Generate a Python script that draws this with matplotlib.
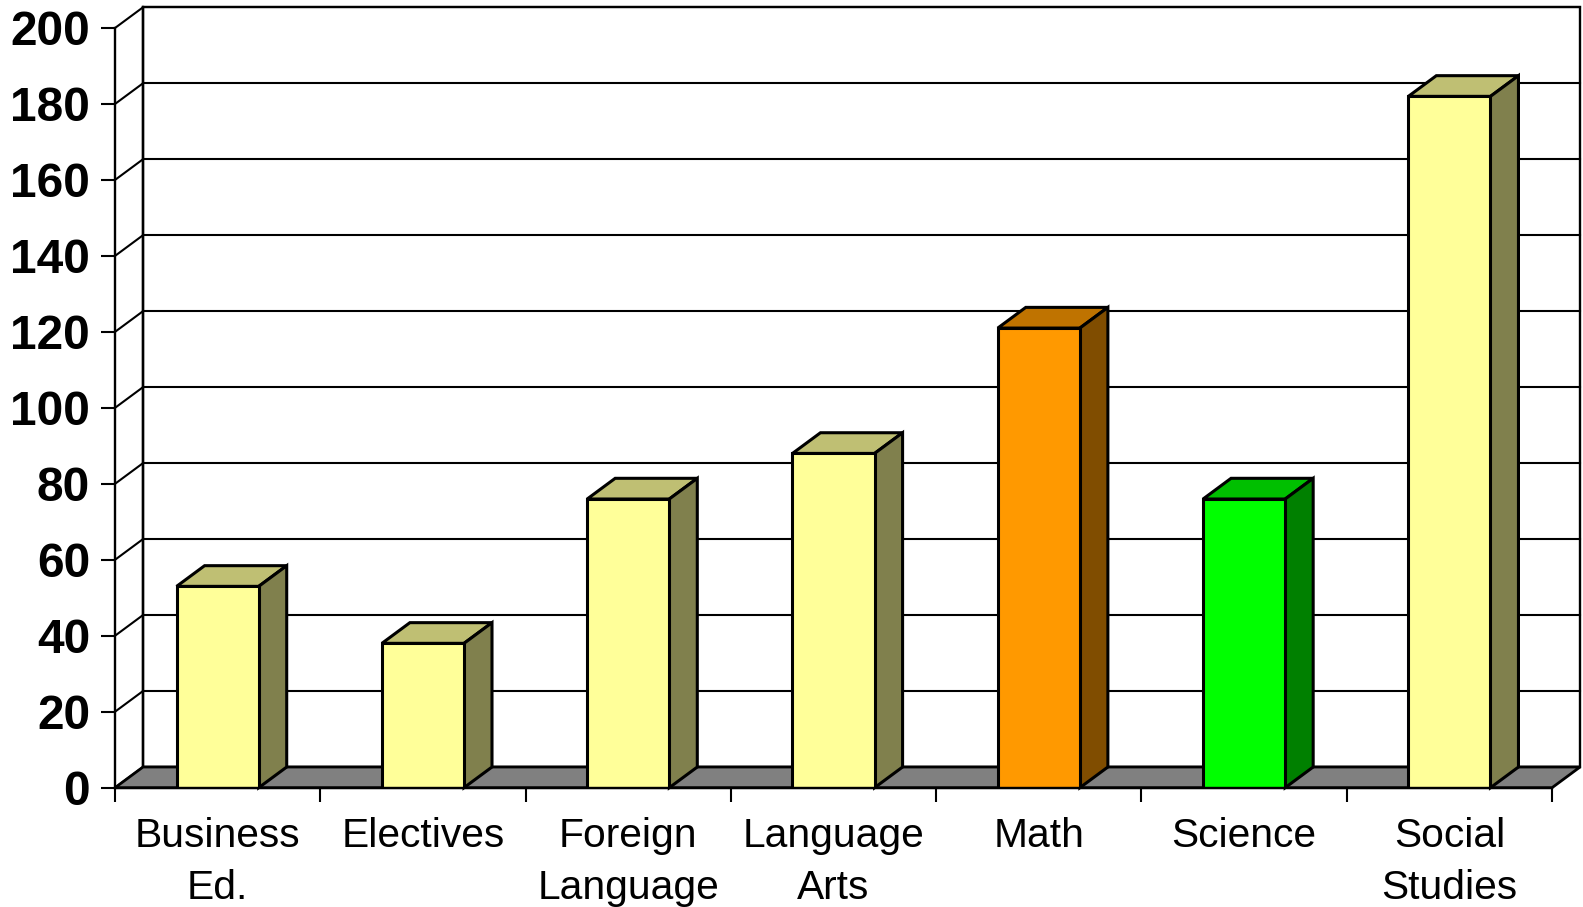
import matplotlib
matplotlib.use("Agg")
import matplotlib.pyplot as plt
from matplotlib.patches import Polygon
from matplotlib.colors import to_rgb

# Course enrollment by department
categories = ["Business\nEd.", "Electives", "Foreign\nLanguage", "Language\nArts",
              "Math", "Science", "Social\nStudies"]
values = [53, 38, 76, 88, 121, 76, 182]
bar_colors = ["#FFFF99", "#FFFF99", "#FFFF99", "#FFFF99", "#FF9900", "#00FF00", "#FFFF99"]
y_ticks = list(range(0, 201, 20))

# Pseudo-3D depth offset (data units) and bar width (category units)
DX, DY = 0.1364, 5.45
BAR_W = 0.40
N = len(categories)
YMAX = 200


def shade(color, k):
    r, g, b = to_rgb(color)
    return (r * k, g * k, b * k)


plt.rcParams["font.family"] = ["Liberation Sans", "DejaVu Sans"]

fig = plt.figure(figsize=(15.83, 9.07), dpi=100)
ax = fig.add_axes([0.07265, 0.13153, 0.9078, 0.8376])
ax.set_xlim(0, N)
ax.set_ylim(0, YMAX)
ax.patch.set_visible(False)

# Back wall
ax.add_patch(Polygon([(DX, DY), (N + DX, DY), (N + DX, YMAX + DY), (DX, YMAX + DY)],
                     closed=True, facecolor="white", edgecolor="black", lw=1.7,
                     clip_on=False, zorder=1))
# Gridlines on back wall and side wall
for v in y_ticks:
    ax.plot([DX, N + DX], [v + DY, v + DY], color="black", lw=1.5, clip_on=False, zorder=2)
    ax.plot([0, DX], [v, v + DY], color="black", lw=1.5, clip_on=False, zorder=2)
ax.plot([DX, DX], [DY, YMAX + DY], color="black", lw=1.7, clip_on=False, zorder=2)

# Floor
ax.add_patch(Polygon([(0, 0), (N, 0), (N + DX, DY), (DX, DY)], closed=True,
                     facecolor="#808080", edgecolor="black", lw=2.0,
                     clip_on=False, zorder=3))

# Bars: front faces
centers = [i + 0.5 for i in range(N)]
ax.bar(centers, values, width=BAR_W, color=bar_colors, edgecolor="black",
       linewidth=2.2, zorder=5)
# Bars: top and side faces
for c, v, col in zip(centers, values, bar_colors):
    x0, x1 = c - BAR_W / 2, c + BAR_W / 2
    ax.add_patch(Polygon([(x0, v), (x1, v), (x1 + DX, v + DY), (x0 + DX, v + DY)],
                         closed=True, facecolor=shade(col, 0.75), edgecolor="black",
                         lw=2.2, joinstyle="miter", clip_on=False, zorder=4))
    ax.add_patch(Polygon([(x1, 0), (x1 + DX, DY), (x1 + DX, v + DY), (x1, v)],
                         closed=True, facecolor=shade(col, 0.5), edgecolor="black",
                         lw=2.2, joinstyle="miter", clip_on=False, zorder=4))

# Axes, ticks and labels
for s in ["top", "right"]:
    ax.spines[s].set_visible(False)
for s in ["left", "bottom"]:
    ax.spines[s].set_linewidth(1.7)
    ax.spines[s].set_zorder(6)

ax.set_yticks(y_ticks)
ax.set_yticklabels([str(v) for v in y_ticks], fontsize=34.5, fontweight="bold")
ax.tick_params(axis="y", length=10, width=1.5, pad=8)

ax.set_xticks(range(N + 1))
ax.set_xticklabels([])
ax.tick_params(axis="x", which="major", length=10, width=1.5)
ax.set_xticks(centers, minor=True)
ax.set_xticklabels(categories, minor=True, fontsize=29.3, linespacing=1.47)
ax.tick_params(axis="x", which="minor", length=0, pad=21)

fig.savefig("out.png", dpi=100, facecolor="white")
